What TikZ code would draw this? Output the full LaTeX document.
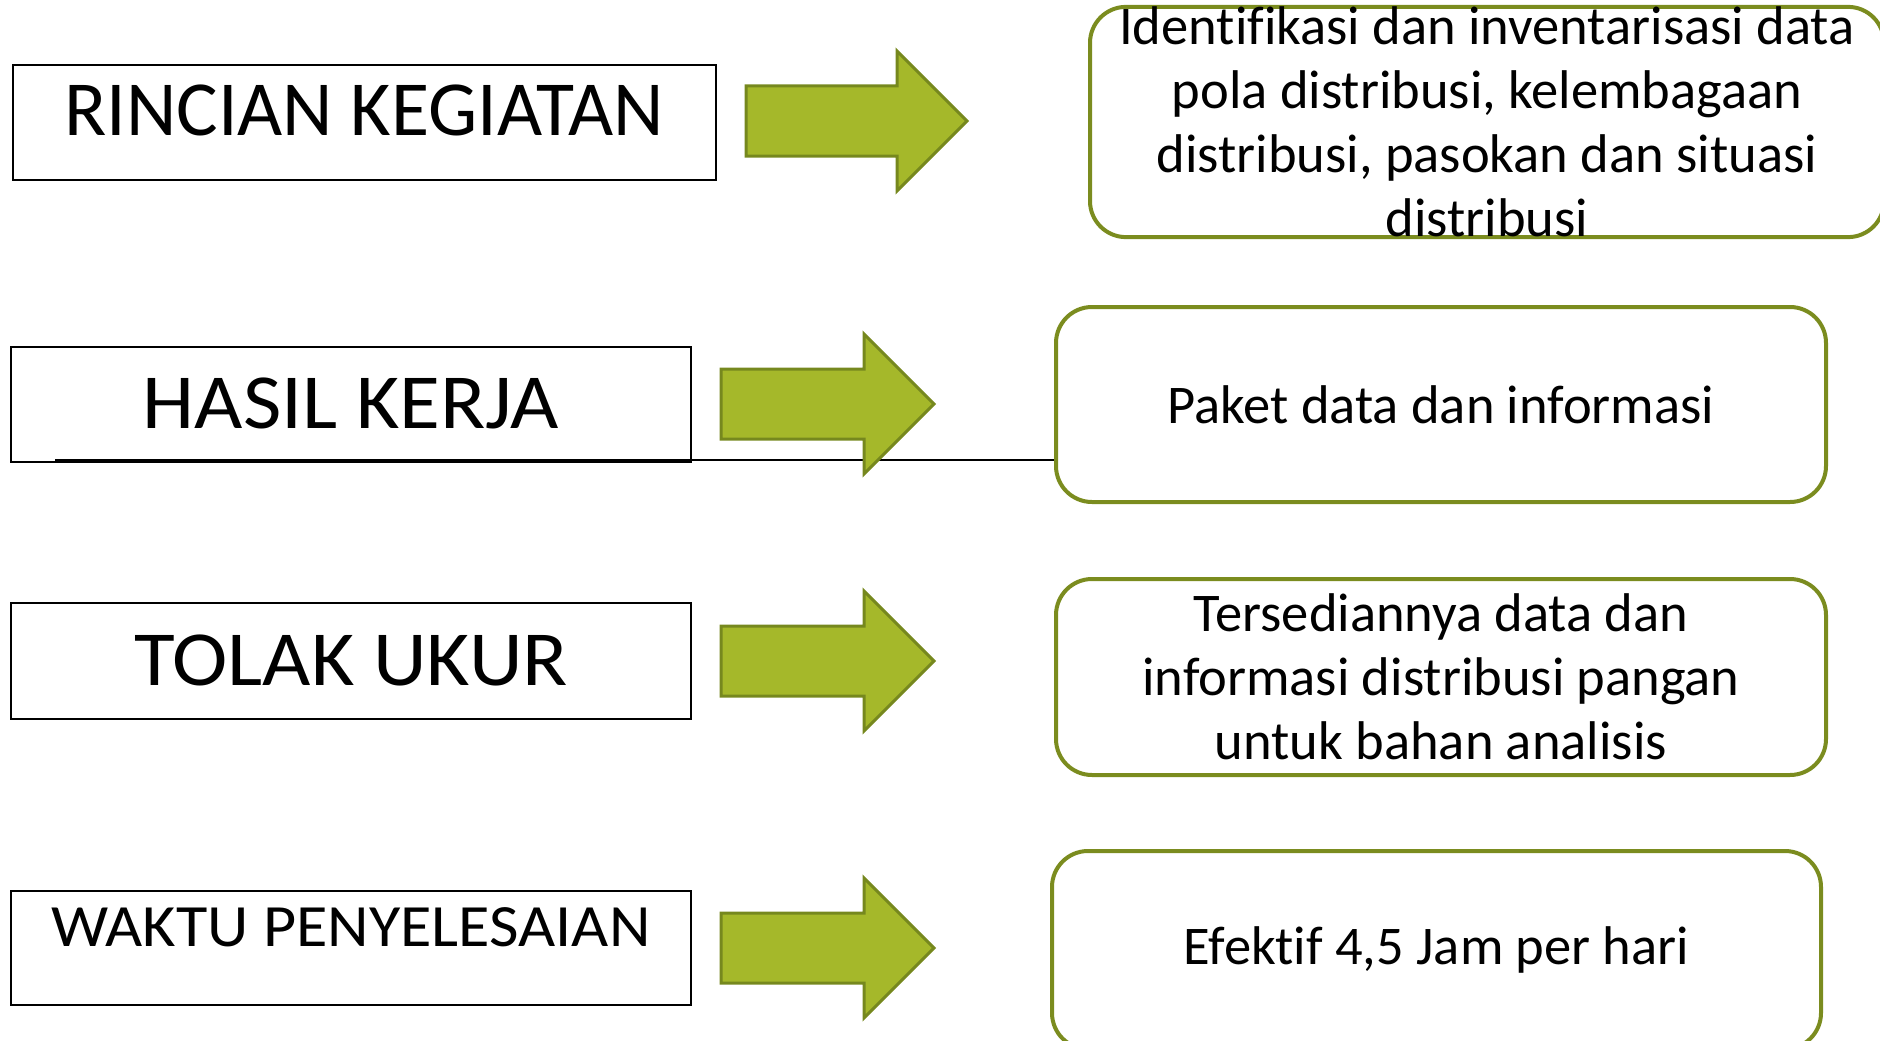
\documentclass[tikz,border=0pt]{standalone}
\usepackage{fontspec}
\setmainfont{Carlito}[Ligatures=NoCommon]
\newfontfamily\widefam{Carlito}[FakeStretch=1.07]
\definecolor{arrowfill}{HTML}{A5B82A}
\definecolor{arrowedge}{HTML}{76881E}
\definecolor{boxedge}{HTML}{7B8C1F}
\newcommand\lblfont{\fontsize{78}{82}\selectfont}
\newcommand\lblwide{\widefam\fontsize{78}{82}\selectfont}
\newcommand\lblsmall{\widefam\fontsize{60}{64}\selectfont}
\newcommand\resfont{\fontsize{54.5}{64}\selectfont}
% block arrow: tail x, centre y, shaft length
\newcommand\blockarrow[3]{%
  \draw[blockarrow] (#1,#2-35) -- ++(#3,0) -- ++(0,-35) -- ++(70,70)
    -- ++(-70,70) -- ++(0,-35) -- ++(-#3,0) -- cycle;}
\begin{document}
\begin{tikzpicture}[x=1pt,y=-1pt,
  labelbox/.style={draw=black, line width=2pt, inner sep=0pt},
  labeltext/.style={anchor=base, inner sep=0pt, font=\lblwide},
  resultbox/.style={draw=boxedge, line width=4pt, rounded corners=36pt,
    inner sep=0pt, align=center, font=\resfont},
  blockarrow/.style={fill=arrowfill, draw=arrowedge, line width=3pt, line join=miter}]
\useasboundingbox (0,0) rectangle (1880,1041);

% left labels
\node[labelbox, minimum width=703pt, minimum height=115pt] (rk) at (364.5,122.5) {};
\node[labeltext, font=\lblfont] (rk-t) at (364,135) {RINCIAN KEGIATAN};
\node[labelbox, minimum width=680pt, minimum height=115pt] (hk) at (351,404.5) {};
\node[labeltext] (hk-t) at (351,428) {HASIL KERJA};
\node[labelbox, minimum width=680pt, minimum height=116pt] (tu) at (351,661) {};
\node[labeltext] (tu-t) at (351,685) {TOLAK UKUR};
\node[labelbox, minimum width=680pt, minimum height=114pt] (wp) at (351,948) {};
\node[labeltext, font=\lblsmall] (wp-t) at (351,946) {WAKTU PENYELESAIAN};

% right results
\node[resultbox, minimum width=794pt, minimum height=222pt] (rb1) at (1487,122)
  {Identifikasi dan inventarisasi data\\pola distribusi, kelembagaan\\distribusi, pasokan dan situasi\\distribusi};
\node[resultbox, minimum width=770pt, minimum height=195pt] (rb2) at (1441,404.5)
  {Paket data dan informasi};
\node[resultbox, minimum width=770pt, minimum height=196pt] (rb3) at (1441,677)
  {Tersediannya data dan\\informasi distribusi pangan\\untuk bahan analisis};
\node[resultbox, minimum width=769pt, minimum height=198pt] (rb4) at (1436.5,950)
  {Efektif 4,5 Jam per hari};

% rule under the second label
\coordinate (hk-rule) at (55,460);
\draw[line width=2pt] (hk-rule) -- (hk-rule -| rb2.west);

% arrows
\blockarrow{746}{121}{151}
\blockarrow{721}{404}{143}
\blockarrow{721}{661}{143}
\blockarrow{721}{948}{143}
\end{tikzpicture}
\end{document}
